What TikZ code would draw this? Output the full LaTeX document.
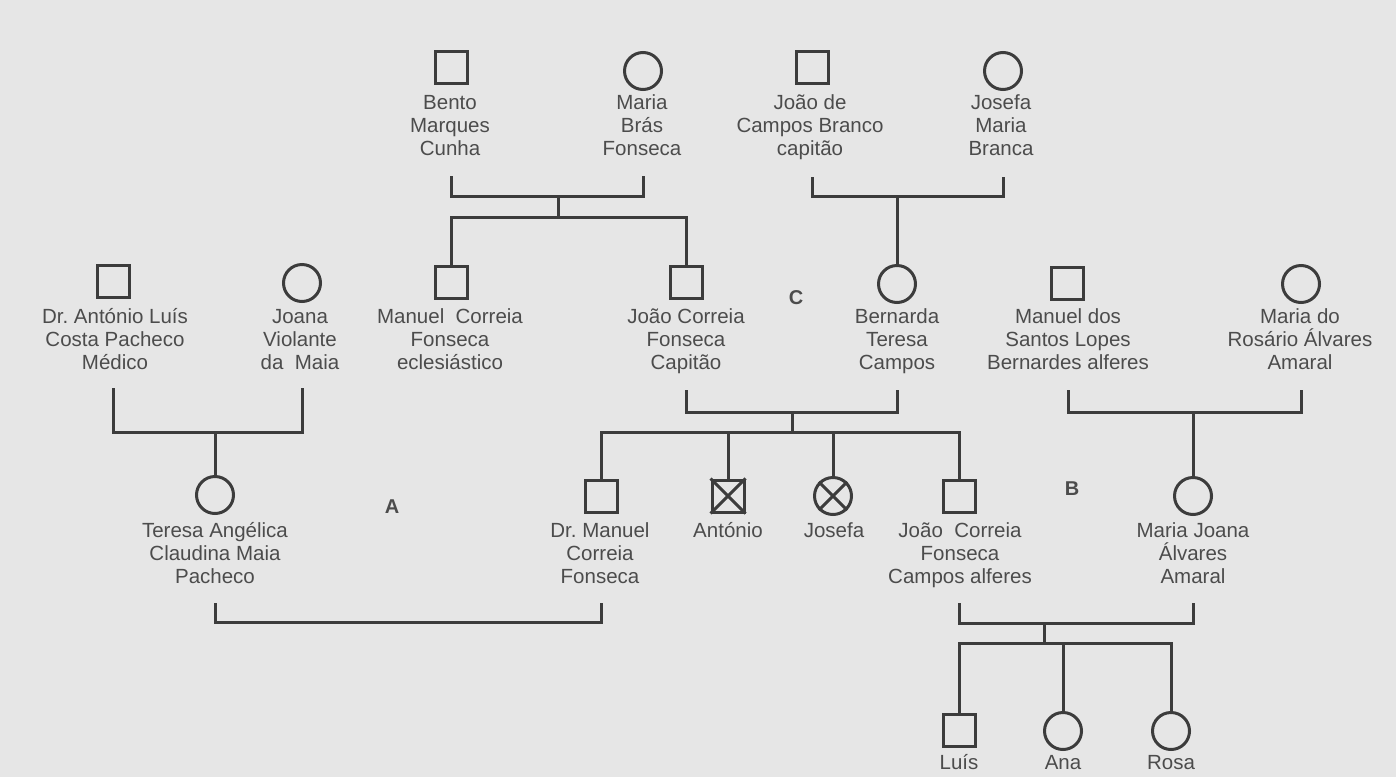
\documentclass[tikz,border=0pt]{standalone}
\usepackage{fontspec}
\setmainfont{Liberation Sans}
\frenchspacing
\definecolor{bg}{HTML}{E6E6E6}
\definecolor{ink}{HTML}{3C3C3C}
\definecolor{txt}{HTML}{4C4C4C}
\newcommand\lstrut{\rule{0pt}{16pt}}
\tikzset{
  male/.style={draw=ink, line width=3pt, minimum size=32pt, inner sep=0pt, shape=rectangle},
  female/.style={draw=ink, line width=3pt, minimum size=37pt, inner sep=0pt, shape=circle},
  lbl/.style={anchor=north, align=center, text=txt, inner sep=0pt, font=\fontsize{20.5}{23}\selectfont},
  link/.style={draw=ink, line width=3pt, line join=miter},
  letter/.style={text=txt, inner sep=0pt, font=\fontsize{20}{24}\selectfont\bfseries},
}
\begin{document}
\begin{tikzpicture}[x=1pt,y=-1pt]
\fill[bg] (0,0) rectangle (1396,777);
\useasboundingbox (0,0) rectangle (1396,777);

% ---------- generation 1 ----------
\node[male]   (bento) at (451,67) {};
\node[female] (mbras) at (643,71) {};
\node[male]   (jcb)   at (812,67) {};
\node[female] (jmb)   at (1003,71) {};
\node[lbl] (bentoL) at (450,93)  {\lstrut Bento\\Marques\\Cunha};
\node[lbl] (mbrasL) at (642,93)  {\lstrut Maria\\Brás\\Fonseca};
\node[lbl] (jcbL)   at (810,93)  {\lstrut João de\\Campos Branco\\capitão};
\node[lbl] (jmbL)   at (1001,93) {\lstrut Josefa\\Maria\\Branca};

% ---------- generation 2 ----------
\node[male]   (dal) at (113,281) {};
\node[female] (jvm) at (302,283) {};
\node[male]   (mcf) at (451,282) {};
\node[male]   (jcf) at (686,282) {};
\node[female] (btc) at (897,284) {};
\node[male]   (msl) at (1067,283) {};
\node[female] (mra) at (1301,284) {};
\node[lbl] (dalL) at (115,307)  {\lstrut Dr. António Luís\\Costa Pacheco\\Médico};
\node[lbl] (jvmL) at (300,307)  {\lstrut Joana\\Violante\\da\ \ Maia};
\node[lbl] (mcfL) at (450,307)  {\lstrut Manuel\ \ Correia\\Fonseca\\eclesiástico};
\node[lbl] (jcfL) at (686,307)  {\lstrut João Correia\\Fonseca\\Capitão};
\node[lbl] (btcL) at (897,307)  {\lstrut Bernarda\\Teresa\\Campos};
\node[lbl] (mslL) at (1068,307) {\lstrut Manuel dos\\Santos Lopes\\Bernardes alferes};
\node[lbl] (mraL) at (1300,307) {\lstrut Maria do\\Rosário Álvares\\Amaral};
\node[letter] (lC) at (796,298) {C};

% ---------- generation 3 ----------
\node[female] (tac)   at (215,495) {};
\node[male]   (dmcf)  at (601,496) {};
\node[male]   (ant)   at (728,496) {};
\node[female] (jos)   at (833,496) {};
\node[male]   (jcfca) at (959,496) {};
\node[female] (mja)   at (1193,496) {};
\draw[ink, line width=3pt] (ant.north west) -- (ant.south east) (ant.north east) -- (ant.south west);
\draw[ink, line width=3pt] (jos.north west) -- (jos.south east) (jos.north east) -- (jos.south west);
\node[lbl] (tacL)   at (215,521)  {\lstrut Teresa Angélica\\Claudina Maia\\Pacheco};
\node[lbl] (dmcfL)  at (600,521)  {\lstrut Dr. Manuel\\Correia\\Fonseca};
\node[lbl] (antL)   at (728,521)  {\lstrut António};
\node[lbl] (josL)   at (834,521)  {\lstrut Josefa};
\node[lbl] (jcfcaL) at (960,521)  {\lstrut João\ \ Correia\\Fonseca\\Campos alferes};
\node[lbl] (mjaL)   at (1193,521) {\lstrut Maria Joana\\Álvares\\Amaral};
\node[letter] (lA) at (392,507) {A};
\node[letter] (lB) at (1072,489) {B};

% ---------- generation 4 ----------
\node[male]   (luis) at (959,730) {};
\node[female] (ana)  at (1063,731) {};
\node[female] (rosa) at (1171,731) {};
\node[lbl] (luisL) at (959,753)  {\lstrut Luís};
\node[lbl] (anaL)  at (1063,753) {\lstrut Ana};
\node[lbl] (rosaL) at (1171,753) {\lstrut Rosa};

% ---------- unions ----------
% Bento + Maria Bras
\coordinate (u1a) at (451,176);
\coordinate (u1b) at (643,176);
\coordinate (u1)  at (558,196);
\coordinate (s1)  at (558,217);
\draw[link] (u1a) |- (u1) -| (u1b);
\draw[link] (u1) -- (s1);
\draw[link] (mcf.north) |- (s1) -| (jcf.north);

% Joao de Campos + Josefa Maria
\coordinate (u2a) at (812,177);
\coordinate (u2b) at (1003,177);
\coordinate (u2)  at (897,196);
\draw[link] (u2a) |- (u2) -| (u2b);
\draw[link] (u2) -- (btc.north);

% Dr Antonio + Joana
\coordinate (u3a) at (113,388);
\coordinate (u3b) at (302,388);
\coordinate (u3)  at (215,432);
\draw[link] (u3a) |- (u3) -| (u3b);
\draw[link] (u3) -- (tac.north);

% Joao Correia + Bernarda
\coordinate (u4a) at (686,390);
\coordinate (u4b) at (897,390);
\coordinate (u4)  at (792,412);
\coordinate (s4)  at (792,432);
\draw[link] (u4a) |- (u4) -| (u4b);
\draw[link] (u4) -- (s4);
\draw[link] (dmcf.north) |- (s4) -| (jcfca.north);
\draw[link] (ant.north) -- (ant.north |- s4);
\draw[link] (jos.north) -- (jos.north |- s4);

% Manuel dos Santos + Maria do Rosario
\coordinate (u5a) at (1068,390);
\coordinate (u5b) at (1301,390);
\coordinate (u5)  at (1193,412);
\draw[link] (u5a) |- (u5) -| (u5b);
\draw[link] (u5) -- (mja.north);

% Teresa + Dr Manuel
\coordinate (u6a) at (215,603);
\coordinate (u6b) at (601,603);
\coordinate (u6)  at (408,622);
\draw[link] (u6a) |- (u6) -| (u6b);

% Joao Correia Fonseca + Maria Joana
\coordinate (u7a) at (959,603);
\coordinate (u7b) at (1193,603);
\coordinate (u7)  at (1044,623);
\coordinate (s7)  at (1044,643);
\draw[link] (u7a) |- (u7) -| (u7b);
\draw[link] (u7) -- (s7);
\draw[link] (luis.north) |- (s7) -| (rosa.north);
\draw[link] (ana.north) -- (ana.north |- s7);
\end{tikzpicture}
\end{document}
